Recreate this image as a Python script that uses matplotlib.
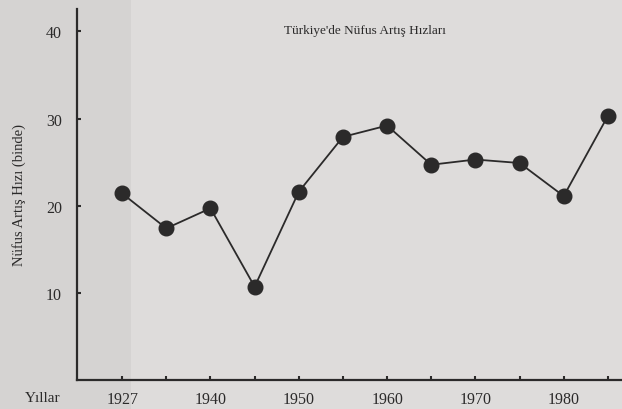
import matplotlib.pyplot as plt
from matplotlib.patches import Rectangle

# data
years = ['1927', '1935', '1940', '1945', '1950', '1955', '1960', '1965', '1970', '1975', '1980', '1985']
rates = [21.4, 17.4, 19.7, 10.7, 21.6, 27.9, 29.2, 24.7, 25.3, 24.9, 21.1, 30.3]
labelled_years = ['1927', '1940', '1950', '1960', '1970', '1980']
y_ticks = [10, 20, 30, 40]

ink = '#2b2a2a'
paper = '#dedcdb'

plt.rcParams['font.family'] = ['Liberation Serif', 'DejaVu Serif']

fig = plt.figure(figsize=(6.22, 4.10), dpi=100, facecolor=paper)
# darker strip on the left side of the scan
fig.patches.append(Rectangle((0, 0), 0.21, 1, transform=fig.transFigure,
                             facecolor='#d5d3d2', edgecolor='none', zorder=-1))

ax = fig.add_axes([0.124, 0.071, 0.876, 0.905])
ax.patch.set_alpha(0)

x = list(range(len(years)))
ax.plot(x, rates, color=ink, lw=1.3, marker='o', markersize=10.5,
        markerfacecolor=ink, markeredgecolor=ink, clip_on=False, zorder=3)

ax.set_xlim(-1.02, 11.32)
ax.set_ylim(0, 42.6)

ax.set_xticks(x)
ax.set_xticklabels([y if y in labelled_years else '' for y in years])
ax.set_yticks(y_ticks)

for s in ['top', 'right']:
    ax.spines[s].set_visible(False)
for s in ['left', 'bottom']:
    ax.spines[s].set_color(ink)
    ax.spines[s].set_linewidth(1.6)

ax.tick_params(axis='both', direction='in', length=3, width=1.5, colors=ink,
               labelsize=11.5, labelcolor=ink)
ax.tick_params(axis='x', pad=8)
ax.tick_params(axis='y', pad=11)

ax.set_ylabel('Nüfus Artış Hızı (binde)', fontsize=10.5, color=ink, labelpad=14)
fig.text(0.068, 0.029, 'Yıllar', fontsize=11, color=ink, ha='center', va='center')
fig.text(0.587, 0.925, "Türkiye'de Nüfus Artış Hızları", fontsize=9.5, color=ink,
         ha='center', va='center')

fig.savefig('out.png', dpi=100, facecolor=paper)
